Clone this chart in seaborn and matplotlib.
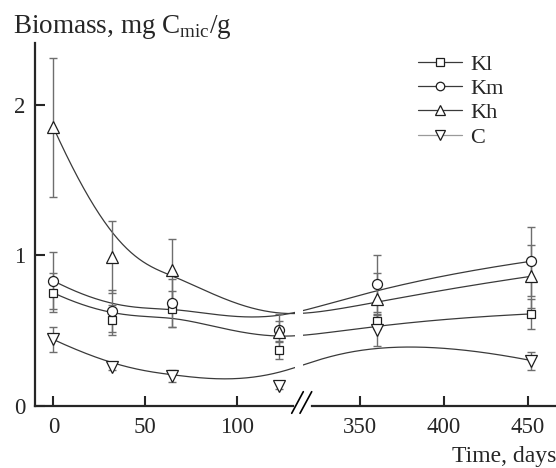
import numpy as np
import matplotlib
matplotlib.use("Agg")
import matplotlib.pyplot as plt
from matplotlib.lines import Line2D
import seaborn as sns

# ---------------- data ----------------
days = [0, 32, 65, 123, 360, 452]
kl = [0.75, 0.57, 0.64, 0.37, 0.56, 0.61]
kl_err = [0.13, 0.10, 0.12, 0.06, 0.05, 0.10]
km = [0.83, 0.63, 0.68, 0.50, 0.81, 0.96]
km_err = [0.19, 0.14, 0.16, 0.11, 0.19, 0.23]
kh = [1.85, 0.99, 0.90, 0.49, 0.71, 0.86]
kh_err = [0.46, 0.24, 0.21, 0.07, 0.17, 0.21]
c = [0.44, 0.26, 0.20, 0.13, 0.50, 0.30]
c_err = [0.08, 0.02, 0.04, 0.02, 0.10, 0.06]

series_names = ["Kl", "Km", "Kh", "C"]
left_ticks = [0, 50, 100]
right_ticks = [350, 400, 450]
y_ticks = [0, 1, 2]

# ---------------- style ----------------
sns.set_style("ticks")
plt.rcParams["font.family"] = ["Liberation Serif", "DejaVu Serif"]
plt.rcParams["mathtext.fontset"] = "custom"
plt.rcParams["mathtext.rm"] = "Liberation Serif"

W, H = 556, 468
fig = plt.figure(figsize=(W / 100, H / 100), dpi=100)

y0_px, ytop_px = 405.7, 43
bottom = 1 - y0_px / H
height = (y0_px - ytop_px) / H
axL = fig.add_axes([35 / W, bottom, (295 - 35) / W, height])
axR = fig.add_axes([303 / W, bottom, (556 - 303) / W, height])

axL.set_xlim(-10, 131.9)
axR.set_xlim(316.1, 466.7)
for ax in (axL, axR):
    ax.set_ylim(0, 2.41)
    ax.set_facecolor("none")
    ax.spines["top"].set_visible(False)
    ax.spines["right"].set_visible(False)
    ax.spines["bottom"].set_linewidth(1.6)
    ax.spines["left"].set_linewidth(1.6)
    ax.tick_params(axis="x", direction="in", length=7, width=1.5, pad=8, labelsize=16.5)
    ax.tick_params(axis="y", direction="in", length=7, width=1.5, pad=7, labelsize=16.5)

axR.spines["left"].set_visible(False)
axR.tick_params(axis="y", left=False, labelleft=False)
axL.set_yticks(y_ticks)
axL.set_yticklabels([str(v) for v in y_ticks])
axL.set_xticks(left_ticks)
axR.set_xticks(right_ticks)
axL.spines["bottom"].set_bounds(-10, 130.8)
axR.spines["bottom"].set_bounds(321.3, 466.7)

# ---------------- smooth B-spline through control points (display space) ----------------
def bspline(P, n=400, k=3):
    P = np.asarray(P, float)
    m = len(P)
    knots = np.concatenate([np.zeros(k), np.linspace(0, 1, m - k + 1), np.ones(k)])
    t = np.linspace(0, 1, n)
    t[-1] -= 1e-9

    def N(i, kk):
        if kk == 0:
            return ((knots[i] <= t) & (t < knots[i + 1])).astype(float)
        out = np.zeros_like(t)
        d1 = knots[i + kk] - knots[i]
        d2 = knots[i + kk + 1] - knots[i + 1]
        if d1 > 0:
            out += (t - knots[i]) / d1 * N(i, kk - 1)
        if d2 > 0:
            out += (knots[i + kk + 1] - t) / d2 * N(i + 1, kk - 1)
        return out

    return sum(N(i, k)[:, None] * P[i] for i in range(m))


def to_display(d, v):
    ax = axL if d < 200 else axR
    return ax.transData.transform((d, v))


line_col = "#3a3a3a"
err_col = "#6e6e6e"
markers = {"Kl": ("s", 6.0), "Km": ("o", 7.2), "Kh": ("^", 8.0), "C": ("v", 8.0)}
data = {"Kl": (kl, kl_err), "Km": (km, km_err), "Kh": (kh, kh_err), "C": (c, c_err)}

for name in series_names:
    vals, errs = data[name]
    ctrl = np.array([to_display(d, v) for d, v in zip(days, vals)])
    curve = bspline(ctrl)
    for ax in (axL, axR):
        cd = ax.transData.inverted().transform(curve)
        sns.lineplot(x=cd[:, 0], y=cd[:, 1], ax=ax, sort=False, estimator=None,
                     color=line_col, linewidth=0.9, zorder=2)
    mk, ms = markers[name]
    for ax, sel in ((axL, [i for i, d in enumerate(days) if d < 200]),
                    (axR, [i for i, d in enumerate(days) if d >= 200])):
        xs = [days[i] for i in sel]
        ys = [vals[i] for i in sel]
        es = [errs[i] for i in sel]
        ax.errorbar(xs, ys, yerr=es, fmt="none", ecolor=err_col, elinewidth=1.0,
                    capsize=3, capthick=1.0, zorder=3)
        ax.plot(xs, ys, linestyle="none", marker=mk, markersize=ms,
                markerfacecolor="white", markeredgecolor="#1e1e1e",
                markeredgewidth=0.9, zorder=4)

# ---------------- axis break marks ----------------
for x1, x2 in ((291.7, 303.3), (300.0, 311.7)):
    fig.add_artist(Line2D([x1 / W, x2 / W], [1 - 413.3 / H, 1 - 391.7 / H],
                          transform=fig.transFigure, color="black", linewidth=1.2))

# ---------------- labels ----------------
fig.text(13 / W, 1 - 33.3 / H, r"Biomass, mg C$_{\mathregular{mic}}$/g",
         fontsize=19.5, ha="left", va="baseline")
fig.text(556 / W, 1 - 461.7 / H, "Time, days", fontsize=17, ha="right", va="baseline")

# ---------------- legend ----------------
handles = []
for name in series_names:
    mk, ms = markers[name]
    handles.append(Line2D([], [], color=("#9a9a9a" if name == "C" else line_col),
                          linewidth=0.9, marker=mk, markersize=ms * 0.85,
                          markerfacecolor="white", markeredgecolor="#1e1e1e",
                          markeredgewidth=0.9))
fig.legend(handles, series_names, loc="upper left",
           bbox_to_anchor=(418 / W, 1 - 54 / H), bbox_transform=fig.transFigure,
           frameon=False, fontsize=16, handlelength=2.0, handletextpad=0.35,
           labelspacing=0.17, borderpad=0, borderaxespad=0)

fig.savefig("out.png", dpi=100)
